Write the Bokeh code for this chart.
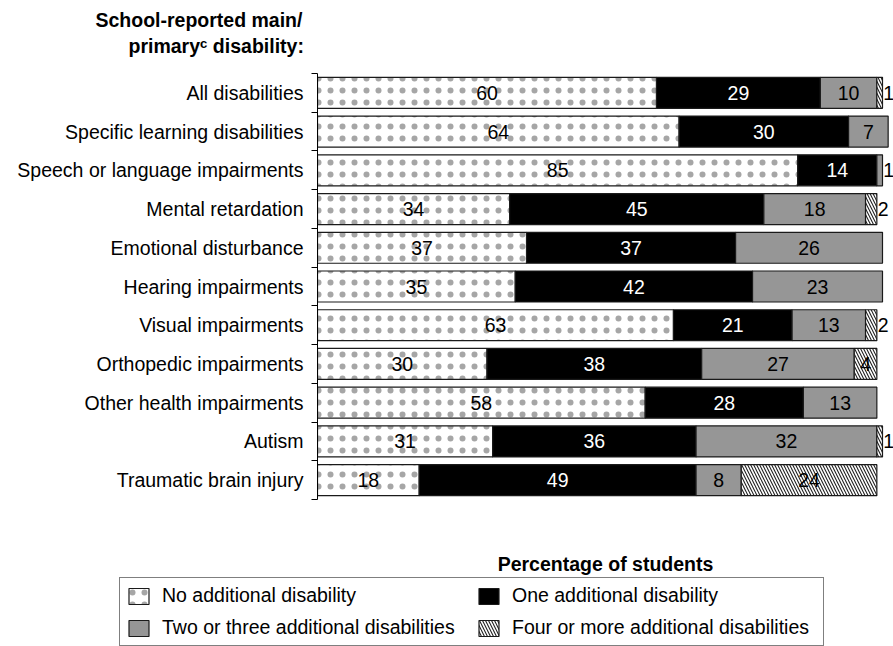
from bokeh.plotting import figure
from bokeh.models import (Range1d, FixedTicker, ColumnDataSource, Legend, LegendItem,
                          Title)
from bokeh.core.properties import value
from bokeh.embed import file_html
from bokeh.resources import INLINE

categories = ["All disabilities", "Specific learning disabilities",
              "Speech or language impairments", "Mental retardation",
              "Emotional disturbance", "Hearing impairments", "Visual impairments",
              "Orthopedic impairments", "Other health impairments", "Autism",
              "Traumatic brain injury"]
no_additional = [60, 64, 85, 34, 37, 35, 63, 30, 58, 31, 18]
one_additional = [29, 30, 14, 45, 37, 42, 21, 38, 28, 36, 49]
two_three = [10, 7, 1, 18, 26, 23, 13, 27, 13, 32, 8]
four_more = [1, 0, 0, 2, 0, 0, 2, 4, 0, 1, 24]
series_names = ["No additional disability", "One additional disability",
                "Two or three additional disabilities",
                "Four or more additional disabilities"]
series = [no_additional, one_additional, two_three, four_more]

FONT = "Liberation Sans"
FS = "19.5px"
W = 893
H_MAIN, H_LEG = 577, 69
LEFT = 317
X_END = 100 * (W - LEFT) / 565.0

fills = ["white", "black", "#969696", "white"]
hatches = ["dot", None, None, "left_diagonal_line"]
hscales = [12, 12, 12, 6]
hcolors = ["black", "black", "black", "#222222"]
halphas = [0.35, 1.0, 1.0, 1.0]
text_colors = ["black", "white", "black", "black"]


def bar_style(k):
    kw = dict(fill_color=fills[k], line_color="#1a1a1a", line_width=1.2)
    if hatches[k]:
        kw.update(hatch_pattern=hatches[k], hatch_color=hcolors[k],
                  hatch_alpha=halphas[k], hatch_scale=hscales[k], hatch_weight=1.1)
    return kw


# ---------------- main chart ----------------
p = figure(width=W, height=H_MAIN, output_backend="svg", toolbar_location=None,
           title=None,
           x_range=Range1d(0, X_END), y_range=Range1d(-0.5, len(categories) - 0.5),
           min_border_left=LEFT, min_border_right=0, min_border_top=73,
           min_border_bottom=75)
p.outline_line_color = None
p.grid.visible = False

n = len(categories)
ys = [n - 1 - i for i in range(n)]
bounds = sorted([y - 0.5 for y in ys] + [max(ys) + 0.5])

ya = p.yaxis[0]
ya.ticker = FixedTicker(ticks=ys, minor_ticks=bounds)
ya.major_label_overrides = {y: c for y, c in zip(ys, categories)}
ya.major_tick_line_color = None
ya.major_tick_out = 0
ya.major_tick_in = 0
ya.minor_tick_out = 6
ya.minor_tick_in = 0
ya.minor_tick_line_color = "black"
ya.axis_line_color = "black"
ya.major_label_text_font = FONT
ya.major_label_text_font_size = FS
ya.major_label_text_color = "black"
ya.major_label_standoff = 8

xa = p.xaxis[0]
xa.ticker = FixedTicker(ticks=[])
xa.axis_line_color = None
xa.major_tick_line_color = None
xa.minor_tick_line_color = None
xa.major_tick_out = 0
xa.minor_tick_out = 0
xa.axis_label = "Percentage of students"
xa.axis_label_text_font = FONT
xa.axis_label_text_font_size = FS
xa.axis_label_text_font_style = "bold"
xa.axis_label_text_color = "black"
xa.axis_label_standoff = 53

sources = []
cum = [0] * n
in_x, in_y, in_t, in_c = [], [], [], []
for k, vals in enumerate(series):
    left = list(cum)
    right = [l + v for l, v in zip(left, vals)]
    idx = [i for i in range(n) if vals[i] > 0]
    src = ColumnDataSource(dict(y=[ys[i] for i in idx],
                                left=[left[i] for i in idx],
                                right=[right[i] for i in idx]))
    sources.append(src)
    p.hbar(y="y", left="left", right="right", height=0.8, source=src, **bar_style(k))
    for i in idx:
        if vals[i] > 2:
            in_x.append((left[i] + right[i]) / 2)
            in_y.append(ys[i])
            in_t.append(str(vals[i]))
            in_c.append(text_colors[k])
    cum = right

out_x, out_y, out_t = [], [], []
for i in range(n):
    for vals in series:
        if 0 < vals[i] <= 2:
            out_x.append(cum[i] + 0.15)
            out_y.append(ys[i])
            out_t.append(str(vals[i]))

p.text(x="x", y="y", text="t", text_color="c",
       source=ColumnDataSource(dict(x=in_x, y=in_y, t=in_t, c=in_c)),
       text_align="center", text_baseline="middle",
       text_font=value(FONT), text_font_size=FS)
p.text(x="x", y="y", text="t",
       source=ColumnDataSource(dict(x=out_x, y=out_y, t=out_t)),
       text_align="left", text_baseline="middle", text_color="black",
       text_font=value(FONT), text_font_size=FS)

# header: titles stacked outward from the frame (spacer, line 2, line 1)
tk = dict(align="left", text_font=FONT, text_font_style="bold", text_color="black")
p.add_layout(Title(text=" ", standoff=12, text_font_size="1px", **tk), "above")
p.add_layout(Title(text="primary\u1d9c disability:", offset=-189, standoff=4,
                   text_font_size=FS, **tk), "above")
p.add_layout(Title(text="School-reported main/", offset=-222, standoff=0,
                   text_font_size=FS, **tk), "above")

# ---------------- legend strip ----------------
leg = figure(width=W, height=H_LEG, output_backend="svg", toolbar_location=None,
             title=None, x_range=Range1d(0, 1), y_range=Range1d(0, 1),
             x_axis_location=None, y_axis_location=None,
             min_border=0, outline_line_color=None)
leg.grid.visible = False
items = []
for k, nm in enumerate(series_names):
    r = leg.hbar(y="y", left="left", right="right", height=0.8, source=sources[k],
                 visible=False, **bar_style(k))
    items.append(LegendItem(label=nm, renderers=[r]))
legend = Legend(items=items, location=(119, 0), orientation="horizontal", nrows=2,
                label_text_font=FONT, label_text_font_size=FS,
                label_text_color="black", glyph_width=25, glyph_height=20,
                label_height=22, label_width=305, label_standoff=11,
                padding=6, spacing=9, margin=0,
                border_line_color="black", border_line_width=1,
                background_fill_color="white", background_fill_alpha=1)
leg.add_layout(legend)

open("out.html", "w").write(file_html([p, leg], INLINE))
